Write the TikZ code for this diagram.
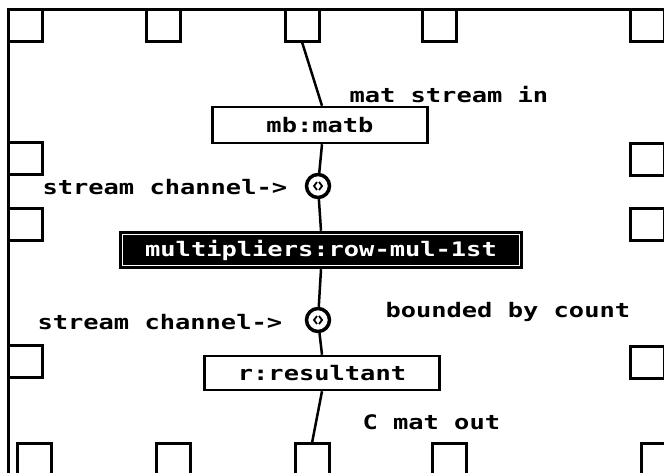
\documentclass[tikz,border=0pt]{standalone}
\usepackage{fontspec}
\newfontfamily\lispfont{DejaVu Sans Mono}[FakeStretch=1.27]
\begin{document}
\begin{tikzpicture}[x=1pt, y=-1pt, line width=3pt,
  port/.style={draw, minimum width=34, minimum height=32, inner sep=0pt,
    outer sep=0pt, anchor=north west},
  box/.style={draw, line width=2.5pt, inner sep=0pt,
    font=\lispfont\bfseries\fontsize{20}{23}\selectfont},
  chan/.style={draw, circle, line width=3.5pt, minimum size=23, inner sep=0pt,
    path picture={
      \draw[line width=1.8pt] ([shift={(-1,-4)}]path picture bounding box.center)
        -- ++(-3,4) -- ++(3,4);
      \draw[line width=1.8pt] ([shift={(1,-4)}]path picture bounding box.center)
        -- ++(3,4) -- ++(-3,4);}},
  lbl/.style={anchor=west, inner sep=0pt,
    font=\lispfont\bfseries\fontsize{20}{23}\selectfont},
  wire/.style={line width=2.5pt},
]
  \useasboundingbox (0,0) rectangle (664,473);
  \draw (8,10) rectangle (672,482);
  % ports round the frame
  \foreach \x [count=\i] in {8,146,285,422,630}
    \node[port] (top\i) at (\x,10) {};
  \foreach \y [count=\i] in {143,209,345}
    \node[port] (left\i) at (8,\y) {};
  \foreach \y [count=\i] in {144,209,346}
    \node[port] (right\i) at (630,\y) {};
  \foreach \x [count=\i] in {17,156,295,432,641}
    \node[port] (bot\i) at (\x,443) {};

  \node[box, minimum width=215, minimum height=36] (matb) at (320,125) {mb:matb};
  \node[chan] (chanA) at (318,186) {};
  \node[box, fill=black, text=white, minimum width=402, minimum height=36]
    (mul) at (321,250) {multipliers:row-mul-1st};
  \draw[white, line width=1pt] ([shift={(4,4)}]mul.north west)
    rectangle ([shift={(-4,-4)}]mul.south east);
  \node[chan] (chanB) at (318,320) {};
  \node[box, minimum width=235, minimum height=34] (res) at (322,373) {r:resultant};

  \draw[wire] (top3.south) -- ([xshift=2pt]matb.north);
  \draw[wire] ([xshift=2pt]matb.south) -- (chanA);
  \draw[wire] (chanA) -- (mul.north);
  \draw[wire] (mul.south) -- (chanB);
  \draw[wire] (chanB) -- (res.north);
  \draw[wire] (res.south) -- (bot3.north);

  \node[lbl] (matin) at (348,95) {mat stream in};
  \node[lbl] (chlabA) at (41,187) {stream channel->};
  \node[lbl] (chlabB) at (36,322) {stream channel->};
  \node[lbl] (bound) at (384,312) {bounded by count};
  \node[lbl] (matout) at (361,422) {C mat out};
\end{tikzpicture}
\end{document}
